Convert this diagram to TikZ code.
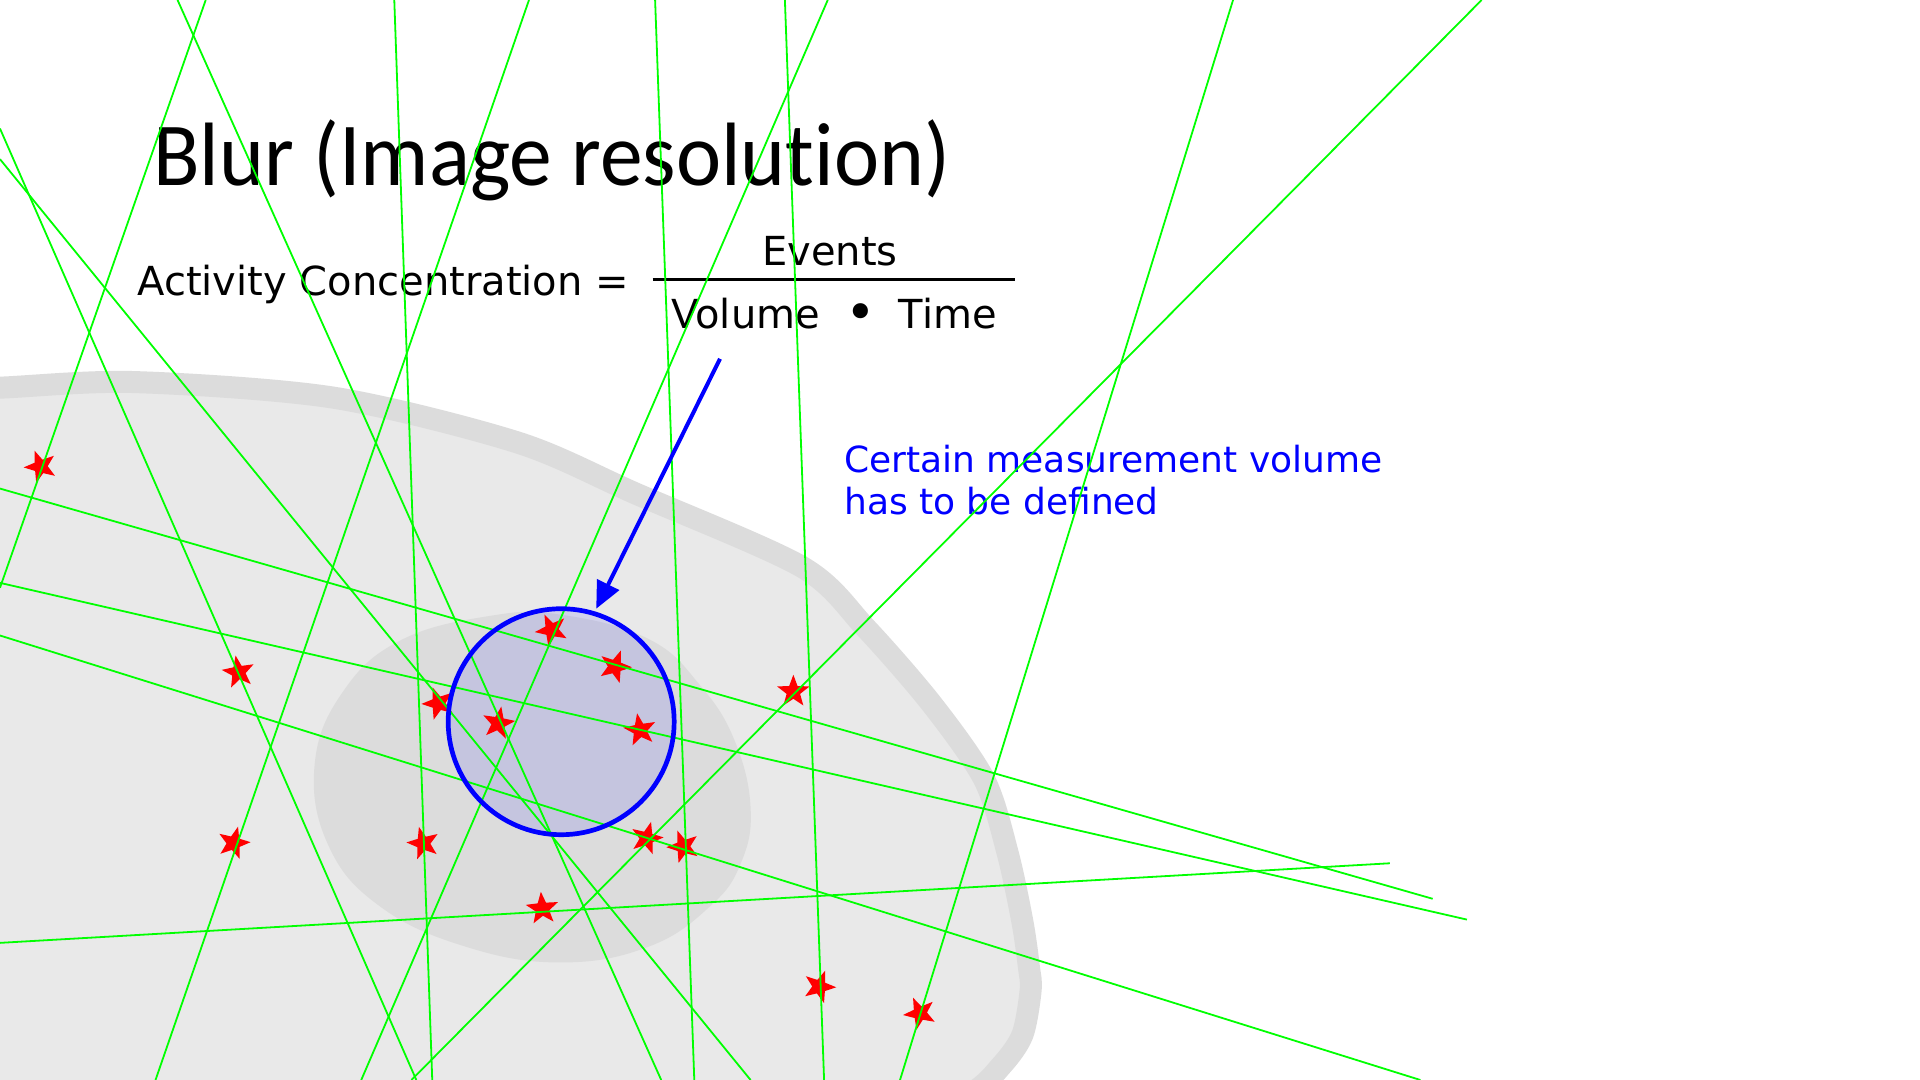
\documentclass[tikz,border=0pt]{standalone}
\usepackage{fontspec}
\setmainfont{DejaVu Sans}
\newfontfamily\titlefont[FakeStretch=0.95,Ligatures=NoCommon]{Carlito}
\newfontfamily\formulafont{DejaVu Sans}
\newfontfamily\notefont{DejaVu Sans}
\usetikzlibrary{shapes.geometric,arrows.meta}

\definecolor{cellFill}{HTML}{E9E9E9}
\definecolor{cellRim}{HTML}{DCDCDC}
\definecolor{nucleusGray}{HTML}{DCDCDC}
\definecolor{rayGreen}{HTML}{00FF00}
\definecolor{eventRed}{HTML}{FF0000}
\definecolor{roiBlue}{HTML}{0000FF}

\begin{document}
\begin{tikzpicture}[x=1.22449pt, y=-1.22449pt,
  ray/.style={draw=rayGreen, line width=1.8pt},
  eventstar/.style={star, star points=5, star point ratio=2.4,
    minimum size=34pt, inner sep=0pt, fill=eventRed, draw=none},
  titletext/.style={anchor=base west, inner sep=0pt,
    font=\titlefont\fontsize{90}{108}\selectfont},
  formtext/.style={inner sep=0pt, font=\formulafont\fontsize{40}{48}\selectfont},
  notetext/.style={anchor=base west, inner sep=0pt, text=roiBlue,
    font=\notefont\fontsize{36}{42}\selectfont},
  pointer/.style={draw=roiBlue, line width=4pt,
    -{Triangle[length=27pt,width=24pt]}, shorten >=3pt}]

\useasboundingbox (0,0) rectangle (1568,882);
\fill[white] (0,0) rectangle (1568,882);

\begin{scope}
\clip (0,0) rectangle (1568,882);

% cell body with its darker rim
\draw[fill=cellFill, draw=cellRim, line width=22pt]
  plot[smooth cycle, tension=0.5] coordinates {
    (-60,318) (0,316.6) (109,312) (272,324.7) (422.5,361.3) (519,403)
    (655,463) (706.8,512.6) (760.9,574.9) (803.8,636.6) (823,697)
    (835,753) (840.3,790) (841.7,808.5) (835,845) (818,870) (790,895)
    (700,940) (300,970) (-60,950)};

% nucleus
\fill[nucleusGray]
  plot[smooth cycle, tension=0.7] coordinates {
    (257,624) (280,565) (327,523) (400,503) (458,502) (530,522)
    (572,560) (600,605) (613,660) (605,705) (580,740) (530,773)
    (458,786) (380,773) (310,740) (268,690)};

% measurement volume (fill)
\fill[roiBlue, fill opacity=0.1] (458.3,589.4) circle [radius=92.3];

% decay events
\node[eventstar, rotate=21]  (s1)  at (33.2,381)    {};
\node[eventstar, rotate=10]  (s2)  at (194.8,549)   {};
\node[eventstar, rotate=-15] (s3)  at (190.8,688.5) {};
\node[eventstar, rotate=15]  (s4)  at (345.7,688.7) {};
\node[eventstar, rotate=20]  (s5)  at (358,574.4)   {};
\node[eventstar, rotate=-10] (s6)  at (407,590.7)   {};
\node[eventstar, rotate=25]  (s7)  at (450.5,514.5) {};
\node[eventstar, rotate=-20] (s8)  at (502.2,544.4) {};
\node[eventstar, rotate=10]  (s9)  at (522.7,596.2) {};
\node[eventstar, rotate=0]   (s10) at (647.9,564.9) {};
\node[eventstar, rotate=-15] (s11) at (528.1,684.6) {};
\node[eventstar, rotate=20]  (s12) at (558,691.4)   {};
\node[eventstar, rotate=5]   (s13) at (442.9,742.1) {};
\node[eventstar, rotate=-20] (s14) at (669.1,805.8) {};
\node[eventstar, rotate=24]  (s15) at (751.3,827.5) {};

% title
\node[titletext] (title) at (125,151.9) {Blur (Image resolution)};

% formula
\node[formtext, anchor=base west] (lhs) at (112,241.7) {Activity Concentration};
\node[formtext, anchor=base] (eq) at (499.8,241.7) {=};
\coordinate (barL) at (533,228.1);
\coordinate (barR) at (828.9,228.1);
\draw[line width=3.3pt] (barL) -- (barR);
\node[formtext, anchor=base] (num) at (677.8,217) {Events};
\node[formtext, anchor=base west] (vol) at (548,268.1) {Volume};
\node[inner sep=0pt, anchor=base, font=\formulafont\fontsize{52}{60}\selectfont]
  (dot) at (703.2,270) {•};
\node[formtext, anchor=base west] (time) at (734,268.1) {Time};

% note
\node[notetext] (note1) at (689.3,386) {Certain measurement volume};
\node[notetext] (note2) at (689.3,420) {has to be defined};

% gamma rays
\draw[ray] (168,0) -- (0,480);
\draw[ray] (0,105) -- (340,882);
\draw[ray] (0,130) -- (613,882);
\draw[ray] (145,0) -- (540,882);
\draw[ray] (322,0) -- (353,882);
\draw[ray] (432,0) -- (127,882);
\draw[ray] (535,0) -- (567,882);
\draw[ray] (676,0) -- (295,882);
\draw[ray] (641,0) -- (673,882);
\draw[ray] (1007,0) -- (735,882);
\draw[ray] (1210,0) -- (336,882);
\draw[ray] (0,399) -- (1170,734);
\draw[ray] (0,476) -- (1198,751);
\draw[ray] (0,519) -- (1160,882);
\draw[ray] (0,770) -- (1135,705);

% measurement volume (outline) and pointer
\node[circle, minimum size=226pt, inner sep=0pt, line width=4.7pt,
  draw=roiBlue] (roi) at (458.3,589.4) {};
\coordinate (arrstart) at (588,293);
\draw[pointer] (arrstart) -- (roi.73);
\end{scope}
\end{tikzpicture}
\end{document}
